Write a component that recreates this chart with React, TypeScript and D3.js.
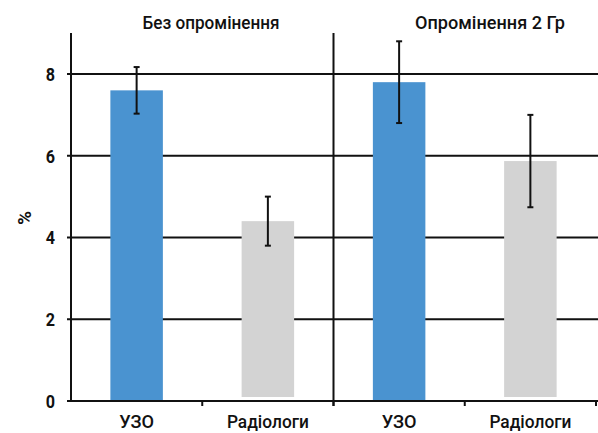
import React from "react";
import * as d3 from "d3";

const groups = ["Без опромінення", "Опромінення 2 Гр"];
const categories = ["УЗО", "Радіологи"];
const values = [7.6, 4.4, 7.8, 5.87];
const errors = [0.57, 0.6, 1.0, 1.13];
const colors = ["#4a93d0", "#d3d3d3"];
const yTicks = [0, 2, 4, 6, 8];

const W = 598;
const H = 433;
const FONT = "Roboto, 'Liberation Sans', sans-serif";

export default function App() {
  const x0 = 71;
  const x1 = 596;
  const y = d3.scaleLinear().domain([0, 8]).range([401, 74]);
  const slots = groups.flatMap((g, gi) => categories.map((c, ci) => `${gi}-${ci}`));
  const x = d3.scaleBand().domain(slots).range([x0, x1]).paddingInner(0.6).paddingOuter(0.3);
  const band = d3.scaleBand().domain(slots).range([x0, x1]);
  const groupScale = d3.scaleBand().domain(groups).range([x0, x1]);
  const top = 33;
  const titleCx = [211, 490];
  const titleLen = [137, 150];
  const catLen = [35, 82];

  return (
    <svg width={W} height={H} style={{ display: "block", position: "absolute", left: 0, top: 0, background: "#fff" }}>
      {yTicks.filter((t) => t > 0).map((t) => (
        <line key={t} x1={x0 - 4} x2={W} y1={y(t)} y2={y(t)} stroke="#111" strokeWidth={2} />
      ))}
      {slots.map((s, i) => {
        const ci = i % 2;
        const v = values[i];
        const bx = x(s)!;
        const bw = x.bandwidth();
        const base = ci === 1 ? y(0) - 4 : y(0);
        return <rect key={s} x={bx} y={y(v)} width={bw} height={base - y(v)} fill={colors[ci]} />;
      })}
      {slots.map((s, i) => {
        const cx = x(s)! + x.bandwidth() / 2;
        const hi = y(values[i] + errors[i]);
        const lo = y(values[i] - errors[i]);
        return (
          <g key={s} stroke="#111" strokeWidth={2}>
            <line x1={cx} x2={cx} y1={hi} y2={lo} />
            <line x1={cx - 3} x2={cx + 3} y1={hi} y2={hi} />
            <line x1={cx - 3} x2={cx + 3} y1={lo} y2={lo} />
          </g>
        );
      })}
      <line x1={x0} x2={x0} y1={top} y2={y(0) + 1} stroke="#111" strokeWidth={2} />
      <line x1={x0 - 4} x2={W} y1={y(0)} y2={y(0)} stroke="#111" strokeWidth={2} />
      <line x1={groupScale(groups[1])!} x2={groupScale(groups[1])!} y1={top} y2={y(0) + 5} stroke="#111" strokeWidth={2} />
      {slots.map((s) => {
        const bx = band(s)! + band.bandwidth();
        return <line key={s} x1={bx} x2={bx} y1={y(0)} y2={y(0) + 5} stroke="#111" strokeWidth={2} />;
      })}
      {yTicks.map((t) => (
        <text key={t} x={55} y={y(t)} dy="0.36em" textAnchor="end" fontFamily={FONT} fontSize={19} fontWeight="bold" fill="#111" transform={`translate(${55 * 0.15},0) scale(0.85,1)`}>
          {t}
        </text>
      ))}
      <text transform={`translate(24,218) rotate(-90)`} textAnchor="middle" dy="0.36em" fontFamily={FONT} fontSize={19} fontWeight="bold" fill="#111">
        %
      </text>
      {slots.map((s, i) => {
        const cx = band(s)! + band.bandwidth() / 2;
        const len = catLen[i % 2];
        return (
          <text key={s} x={cx - len / 2} y={428} fontFamily={FONT} fontSize={18} fontWeight={500} fill="#111" textLength={len} lengthAdjust="spacingAndGlyphs">
            {categories[i % 2]}
          </text>
        );
      })}
      {groups.map((g, gi) => (
        <text key={g} x={titleCx[gi] - titleLen[gi] / 2} y={28.5} fontFamily={FONT} fontSize={19} fontWeight={500} fill="#111" textLength={titleLen[gi]} lengthAdjust="spacingAndGlyphs">
          {g}
        </text>
      ))}
    </svg>
  );
}
